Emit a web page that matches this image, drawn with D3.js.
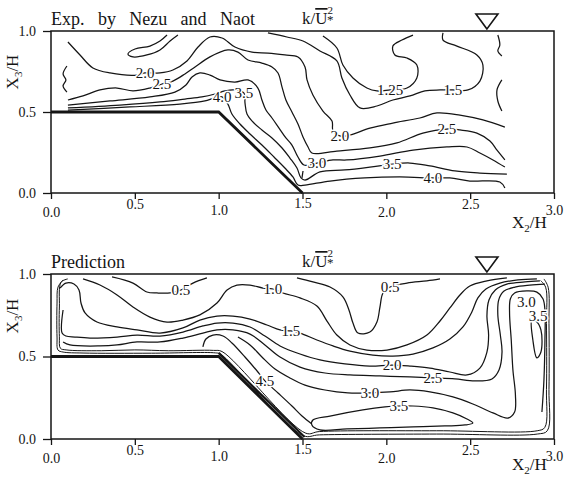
<!DOCTYPE html>
<html>
<head>
<meta charset="utf-8">
<script src="https://cdn.jsdelivr.net/npm/d3@7"></script>
<style>
  body { margin: 0; background: #fff; }
  svg { display: block; }
</style>
</head>
<body>
<svg id="chart" width="577" height="478"></svg>
<script>
const xTicks = [0, 0.5, 1, 1.5, 2, 2.5, 3];
const yTicks = [0, 0.5, 1];
const tickLabelDrop = [19, 11, 17, 10, 19, 11, 17];
const channel = [[0, 0.5], [1, 0.5], [1.5, 0]];
const surfaceX = 2.6;

// measured contours, k/U*^2 (X2/H, X3/H)
const expLoop = [[0.757,0.975],[0.710,0.938],[0.650,0.883],[0.572,0.852],[0.489,0.840],[0.459,0.858],[0.501,0.889],[0.590,0.907],[0.650,0.938],[0.692,0.975]];
const expWiggleLeft = [[0.095,0.784],[0.072,0.735],[0.089,0.698],[0.072,0.660],[0.095,0.623]];
const expWiggleRight1 = [[2.665,0.975],[2.677,0.914],[2.665,0.877],[2.689,0.846]];
const expWiggleRight2 = [[2.689,0.698],[2.660,0.636],[2.665,0.568],[2.689,0.506]];
const expTick = [[1.503,0.136],[1.497,0.093]];
const exp125 = [[1.622,0.969],[1.705,0.895],[1.741,0.790],[1.801,0.710],[1.884,0.648],[1.944,0.630],[2.022,0.636],[2.123,0.648],[2.182,0.710],[2.182,0.790],[2.123,0.833],[2.051,0.852],[2.039,0.907],[2.093,0.944],[2.159,0.975]];
const exp15 = [[1.294,0.988],[1.407,0.963],[1.503,0.938],[1.604,0.877],[1.705,0.815],[1.735,0.710],[1.783,0.605],[1.843,0.525],[1.944,0.537],[2.039,0.574],[2.141,0.599],[2.230,0.630],[2.320,0.636],[2.397,0.636],[2.487,0.636],[2.558,0.691],[2.576,0.790],[2.540,0.852],[2.421,0.907],[2.338,0.944],[2.338,0.988]];
const exp20 = [[0.101,0.932],[0.173,0.852],[0.250,0.772],[0.352,0.741],[0.513,0.728],[0.561,0.741],[0.650,0.741],[0.727,0.759],[0.811,0.815],[0.877,0.901],[0.948,0.963],[1.020,0.957],[1.097,0.901],[1.199,0.870],[1.294,0.864],[1.395,0.852],[1.473,0.840],[1.515,0.778],[1.527,0.698],[1.562,0.605],[1.622,0.506],[1.676,0.444],[1.682,0.383],[1.723,0.352],[1.783,0.358],[1.902,0.401],[2.039,0.432],[2.200,0.463],[2.302,0.494],[2.439,0.481],[2.576,0.451],[2.707,0.407]];
const exp25 = [[0.101,0.574],[0.191,0.599],[0.292,0.636],[0.394,0.648],[0.489,0.630],[0.590,0.648],[0.662,0.673],[0.727,0.691],[0.799,0.735],[0.859,0.778],[0.948,0.840],[1.055,0.883],[1.115,0.870],[1.175,0.821],[1.258,0.802],[1.318,0.778],[1.354,0.741],[1.378,0.654],[1.401,0.574],[1.437,0.500],[1.473,0.426],[1.503,0.346],[1.533,0.284],[1.556,0.247],[1.705,0.259],[1.902,0.278],[2.063,0.309],[2.218,0.370],[2.361,0.395],[2.439,0.389],[2.540,0.370],[2.618,0.321],[2.660,0.265],[2.707,0.204]];
const exp30 = [[0.101,0.543],[0.352,0.568],[0.590,0.593],[0.739,0.623],[0.805,0.667],[0.841,0.716],[0.888,0.741],[0.948,0.728],[1.008,0.698],[1.097,0.685],[1.175,0.698],[1.234,0.648],[1.258,0.574],[1.282,0.512],[1.318,0.463],[1.360,0.401],[1.401,0.340],[1.437,0.296],[1.473,0.222],[1.509,0.173],[1.586,0.185],[1.682,0.204],[1.765,0.204],[1.962,0.228],[2.159,0.265],[2.361,0.284],[2.481,0.284],[2.558,0.247],[2.636,0.204],[2.707,0.160]];
const exp35 = [[0.101,0.525],[0.411,0.543],[0.650,0.562],[0.799,0.580],[0.900,0.593],[0.978,0.611],[1.038,0.630],[1.091,0.636],[1.151,0.617],[1.157,0.556],[1.169,0.488],[1.205,0.438],[1.258,0.389],[1.318,0.340],[1.378,0.278],[1.425,0.216],[1.467,0.154],[1.491,0.093],[1.515,0.080],[1.604,0.130],[1.753,0.142],[1.902,0.160],[2.039,0.179],[2.141,0.185],[2.260,0.167],[2.409,0.136],[2.558,0.123],[2.719,0.117]];
const exp40 = [[0.101,0.512],[0.471,0.531],[0.769,0.549],[0.918,0.568],[0.972,0.586],[1.020,0.593],[1.055,0.549],[1.079,0.488],[1.127,0.426],[1.187,0.364],[1.258,0.296],[1.330,0.222],[1.395,0.154],[1.443,0.099],[1.473,0.049],[1.515,0.049],[1.664,0.074],[1.872,0.093],[2.081,0.099],[2.278,0.093],[2.379,0.093],[2.498,0.074],[2.677,0.068],[2.707,0.031]];
const expLabels = [["2.0",0.561,0.741],["2.5",0.662,0.673],["4.0",1.020,0.593],["3.5",1.151,0.617],["2.0",1.723,0.352],["1.25",2.022,0.636],["1.5",2.397,0.636],["2.5",2.361,0.395],["3.0",1.586,0.185],["3.5",2.034,0.179],["4.0",2.278,0.093]];

// predicted contours
const predWallOuter = [[0.072,0.964],[0.042,0.921],[0.036,0.824],[0.036,0.618],[0.042,0.539],[0.072,0.527],[0.191,0.521],[0.6,0.52],[0.98,0.522],[1.01,0.515],[1.505,0.02],[1.6,0.025],[2.3,0.03],[2.9,0.03],[2.96,0.05],[2.97,0.3],[2.97,0.7],[2.965,0.92],[2.94,0.97]];
const predWallInner = [[0.1,0.97],[0.06,0.95],[0.05,0.8],[0.05,0.62],[0.056,0.55],[0.09,0.54],[0.3,0.535],[0.5,0.54],[0.7,0.535],[0.97,0.537],[1.02,0.53],[1.52,0.035],[1.6,0.045],[2.3,0.05],[2.9,0.05],[2.945,0.07],[2.955,0.3],[2.955,0.7],[2.95,0.92],[2.92,0.96]];
const predSlope = [[1.0,0.522],[1.512,0.012]];
const pred05Left = [[0.364,0.982],[0.489,0.945],[0.572,0.891],[0.632,0.885],[0.710,0.885],[0.775,0.903],[0.847,0.945],[0.930,0.976]];
const pred05 = [[1.467,0.976],[1.562,0.952],[1.664,0.921],[1.741,0.861],[1.777,0.782],[1.801,0.703],[1.831,0.642],[1.902,0.648],[1.944,0.709],[1.962,0.800],[1.980,0.885],[2.022,0.921],[2.123,0.945],[2.242,0.958],[2.320,0.970]];
const pred10 = [[0.191,0.970],[0.292,0.933],[0.394,0.873],[0.489,0.800],[0.590,0.739],[0.692,0.709],[0.787,0.721],[0.888,0.752],[0.990,0.824],[1.050,0.903],[1.109,0.933],[1.187,0.933],[1.264,0.915],[1.324,0.909],[1.383,0.885],[1.485,0.855],[1.586,0.806],[1.646,0.715],[1.705,0.630],[1.783,0.570],[1.884,0.539],[2.004,0.539],[2.123,0.570],[2.242,0.630],[2.320,0.715],[2.379,0.794],[2.439,0.873],[2.498,0.927],[2.600,0.958],[2.719,0.976]];
const pred15 = [[0.054,0.915],[0.089,0.945],[0.137,0.939],[0.167,0.903],[0.179,0.824],[0.203,0.764],[0.274,0.709],[0.394,0.679],[0.513,0.661],[0.650,0.642],[0.787,0.673],[0.888,0.721],[0.990,0.745],[1.085,0.745],[1.187,0.727],[1.288,0.691],[1.366,0.661],[1.431,0.655],[1.485,0.642],[1.586,0.600],[1.682,0.564],[1.783,0.533],[1.920,0.509],[2.039,0.503],[2.159,0.515],[2.278,0.552],[2.379,0.606],[2.457,0.679],[2.510,0.770],[2.546,0.855],[2.594,0.909],[2.677,0.945],[2.785,0.964],[2.898,0.970]];
const pred20 = [[0.072,0.782],[0.066,0.642],[0.089,0.624],[0.143,0.618],[0.233,0.612],[0.394,0.618],[0.513,0.630],[0.650,0.624],[0.787,0.648],[0.906,0.685],[0.990,0.703],[1.085,0.703],[1.187,0.679],[1.276,0.624],[1.366,0.564],[1.485,0.515],[1.604,0.479],[1.753,0.455],[1.902,0.442],[2.034,0.448],[2.141,0.442],[2.260,0.430],[2.379,0.406],[2.481,0.388],[2.558,0.430],[2.600,0.527],[2.610,0.630],[2.600,0.745],[2.612,0.842],[2.650,0.903],[2.719,0.939],[2.827,0.952],[2.916,0.958]];
const pred25 = [[0.072,0.588],[0.113,0.570],[0.292,0.564],[0.394,0.570],[0.513,0.588],[0.650,0.588],[0.787,0.612],[0.906,0.642],[0.990,0.661],[1.085,0.661],[1.187,0.636],[1.276,0.570],[1.366,0.497],[1.485,0.436],[1.634,0.400],[1.783,0.388],[1.962,0.382],[2.141,0.376],[2.278,0.370],[2.409,0.364],[2.528,0.352],[2.630,0.364],[2.672,0.418],[2.690,0.527],[2.680,0.630],[2.665,0.752],[2.670,0.842],[2.700,0.895],[2.767,0.921],[2.856,0.933],[2.946,0.939]];
const pred30 = [[1.115,0.618],[1.187,0.570],[1.258,0.497],[1.336,0.424],[1.425,0.370],[1.515,0.327],[1.634,0.297],[1.771,0.279],[1.902,0.279],[2.022,0.285],[2.141,0.297],[2.260,0.285],[2.397,0.255],[2.516,0.212],[2.636,0.158],[2.725,0.127],[2.765,0.164],[2.770,0.267],[2.755,0.418],[2.745,0.600],[2.735,0.760],[2.740,0.850],[2.765,0.885],[2.838,0.897],[2.898,0.890],[2.934,0.850],[2.946,0.782],[2.946,0.600],[2.940,0.358],[2.928,0.164]];
const pred35 = [[1.562,0.115],[1.664,0.139],[1.860,0.176],[1.992,0.194],[2.075,0.200],[2.159,0.200],[2.278,0.188],[2.397,0.158],[2.481,0.121],[2.516,0.097],[2.469,0.085],[2.349,0.079],[2.159,0.073],[1.962,0.067],[1.765,0.061],[1.604,0.055],[1.556,0.085]];
const pred35Right = [[2.868,0.721],[2.874,0.600],[2.898,0.491],[2.922,0.527],[2.922,0.661],[2.892,0.715]];
const pred45 = [[0.906,0.558],[0.924,0.606],[0.966,0.630],[1.026,0.624],[1.079,0.582],[1.157,0.497],[1.234,0.406],[1.276,0.352],[1.354,0.279],[1.437,0.200],[1.497,0.139],[1.556,0.091]];
const predLabels = [["0.5",0.775,0.903],["1.0",1.324,0.909],["0.5",2.022,0.921],["1.5",1.431,0.655],["2.0",2.034,0.448],["2.5",2.278,0.370],["3.0",1.902,0.279],["3.5",2.075,0.200],["3.0",2.835,0.830],["3.5",2.905,0.745],["4.5",1.276,0.352]];

const closedLines = new Set([pred35, pred35Right]);
const ink = "#151515";
const serif = "'Liberation Serif', 'Times New Roman', Times, serif";

const svg = d3.select("#chart").attr("font-family", serif);
const x = d3.scaleLinear().domain([0, 3]).range([51, 554]);

const panels = [
  {
    top: 31, bottom: 193, title: "Exp. by Nezu and Naot", titleWidth: 204, nameY: 72, xNameDrop: 35,
    lines: [expLoop, expWiggleLeft, expWiggleRight1, expWiggleRight2, expTick, exp125, exp15, exp20, exp25, exp30, exp35, exp40],
    walls: [], thick: [], labels: expLabels
  },
  {
    top: 274, bottom: 439, title: "Prediction", titleWidth: 78, nameY: 316, xNameDrop: 31,
    lines: [pred05Left, pred05, pred10, pred15, pred20, pred25, pred30, pred35, pred35Right, pred45],
    walls: [predWallOuter, predWallInner], thick: [predSlope], labels: predLabels
  }
];

// spread words over a fixed width, like the wide word gaps of the figure
const spreadWords = (g, text, x0, y0, width) => {
  const words = text.split(" ");
  const nodes = words.map((w) =>
    g.append("text").attr("x", x0).attr("y", y0).attr("font-size", 18).attr("fill", ink).attr("font-family", serif).text(w)
  );
  const lengths = nodes.map((n) => n.node().getComputedTextLength());
  const gap = words.length > 1 ? (width - d3.sum(lengths)) / (words.length - 1) : 0;
  let cursor = x0;
  nodes.forEach((n, i) => {
    n.attr("x", cursor);
    cursor += lengths[i] + gap;
  });
};

const drawPanel = (p) => {
  const y = d3.scaleLinear().domain([0, 1]).range([p.bottom, p.top]);
  const g = svg.append("g");
  const open = d3.line().x((d) => x(d[0])).y((d) => y(d[1])).curve(d3.curveCatmullRom.alpha(0.5));
  const closed = d3.line().x((d) => x(d[0])).y((d) => y(d[1])).curve(d3.curveCatmullRomClosed.alpha(0.5));
  const straight = d3.line().x((d) => x(d[0])).y((d) => y(d[1]));

  g.selectAll(".wall")
    .data(p.walls)
    .join("path")
    .attr("class", "wall")
    .attr("d", open)
    .attr("fill", "none")
    .attr("stroke", ink)
    .attr("stroke-width", 1);

  g.selectAll(".contour")
    .data(p.lines)
    .join("path")
    .attr("class", "contour")
    .attr("d", (d) => (closedLines.has(d) ? closed(d) : open(d)))
    .attr("fill", "none")
    .attr("stroke", ink)
    .attr("stroke-width", 1.25)
    .attr("stroke-linejoin", "round");

  g.selectAll(".thick")
    .data(p.thick)
    .join("path")
    .attr("class", "thick")
    .attr("d", straight)
    .attr("fill", "none")
    .attr("stroke", ink)
    .attr("stroke-width", 2.2);

  // frame and channel outline
  g.append("rect")
    .attr("x", x(0))
    .attr("y", y(1))
    .attr("width", x(3) - x(0))
    .attr("height", y(0) - y(1))
    .attr("fill", "none")
    .attr("stroke", ink)
    .attr("stroke-width", 1.5);

  g.append("path")
    .attr("d", straight(channel))
    .attr("fill", "none")
    .attr("stroke", ink)
    .attr("stroke-width", 2.8)
    .attr("stroke-linejoin", "miter");

  // contour labels, white halo cuts the line
  g.selectAll(".clabel")
    .data(p.labels)
    .join("text")
    .attr("class", "clabel")
    .attr("x", (d) => x(d[1]))
    .attr("y", (d) => y(d[2]))
    .attr("dy", "0.36em")
    .attr("text-anchor", "middle")
    .attr("font-size", 15)
    .attr("font-family", serif)
    .attr("fill", ink)
    .attr("stroke", "#fff")
    .attr("stroke-width", 3)
    .attr("paint-order", "stroke")
    .text((d) => d[0]);

  // axes
  const xAxis = g.append("g")
    .attr("transform", `translate(0,${y(0)})`)
    .call(d3.axisBottom(x).tickValues(xTicks).tickSize(6).tickSizeOuter(0).tickFormat(d3.format(".1f")));
  xAxis.select(".domain").remove();
  xAxis.selectAll(".tick line").attr("stroke", ink).attr("stroke-width", 1.3);
  xAxis.selectAll(".tick text")
    .attr("y", (d, i) => tickLabelDrop[i])
    .attr("dy", "0.35em")
    .attr("font-size", 14)
    .attr("font-family", serif)
    .attr("fill", ink);

  const yAxis = g.append("g")
    .attr("transform", `translate(${x(0)},0)`)
    .call(d3.axisLeft(y).tickValues(yTicks).tickSize(8).tickSizeOuter(0).tickFormat(d3.format(".1f")));
  yAxis.select(".domain").remove();
  yAxis.selectAll(".tick line").attr("stroke", ink).attr("stroke-width", 1.3);
  yAxis.selectAll(".tick text")
    .attr("x", -15)
    .attr("font-size", 14)
    .attr("font-family", serif)
    .attr("fill", ink);

  // titles
  spreadWords(g, p.title, x(0), p.top - 6, p.titleWidth);

  const kText = g.append("text").attr("x", 302).attr("y", p.top - 7).attr("font-size", 17).attr("fill", ink);
  kText.append("tspan").text("k/");
  kText.append("tspan").style("text-decoration", "overline").text("U");
  kText.append("tspan").attr("font-size", 11).attr("dy", -10).text("2");
  kText.append("tspan").attr("font-size", 13).attr("dx", -6).attr("dy", 10).text("*");

  // free surface marker
  const sx = x(surfaceX);
  const sy = y(1);
  g.append("path")
    .attr("d", `M${sx},${sy - 2}L${sx - 11},${sy - 17}L${sx + 11},${sy - 17}Z`)
    .attr("fill", "none")
    .attr("stroke", ink)
    .attr("stroke-width", 1.6);

  // axis names
  const yName = g.append("text")
    .attr("transform", `translate(18,${p.nameY}) rotate(-90)`)
    .attr("text-anchor", "middle")
    .attr("font-size", 17)
    .attr("fill", ink);
  yName.append("tspan").text("X");
  yName.append("tspan").attr("font-size", 11).attr("dy", 4).text("3");
  yName.append("tspan").attr("dy", -4).text("/H");

  const xName = g.append("text")
    .attr("x", 512)
    .attr("y", p.bottom + p.xNameDrop)
    .attr("font-size", 17)
    .attr("fill", ink);
  xName.append("tspan").text("X");
  xName.append("tspan").attr("font-size", 11).attr("dy", 4).text("2");
  xName.append("tspan").attr("dy", -4).text("/H");
};

panels.forEach(drawPanel);
</script>
</body>
</html>
